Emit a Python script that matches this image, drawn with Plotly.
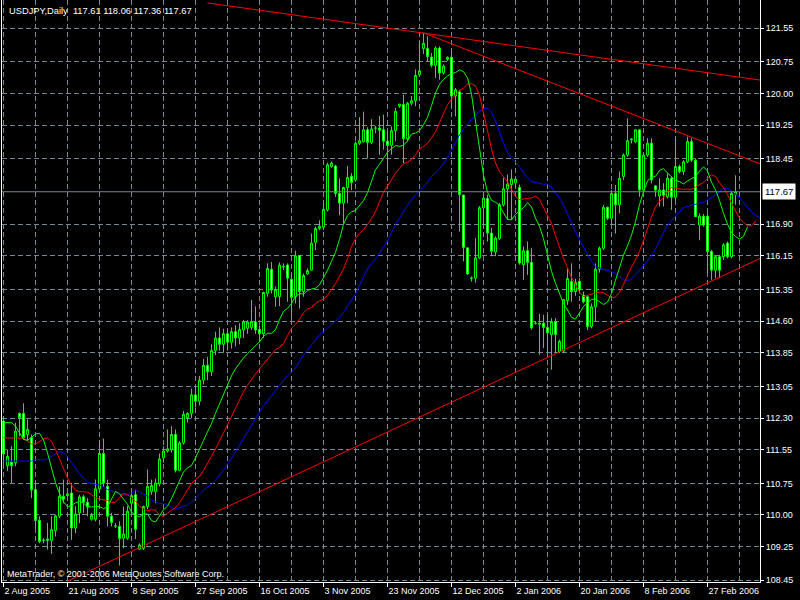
import plotly.graph_objects as go

# ---------------- data (USDJPY daily) ----------------
opens = [112.23,111.17,111.25,111.24,112.41,112.41,111.91,111.83,110.60,109.87,
         109.40,109.43,109.40,109.63,109.97,110.44,110.46,110.52,109.69,110.05,
         110.43,110.30,109.90,109.90,110.62,111.46,110.68,109.97,109.74,109.73,
         109.45,109.45,110.28,110.48,109.19,109.21,110.20,110.56,110.56,110.74,
         111.36,111.52,111.55,111.91,111.06,111.71,112.31,112.41,112.85,112.70,
         113.20,113.55,113.40,113.90,114.20,114.05,114.30,114.10,114.35,114.20,
         114.39,114.43,114.45,114.58,114.40,114.30,115.26,115.83,115.18,115.18,
         115.90,115.93,115.59,115.18,116.15,115.30,115.72,115.81,116.47,116.80,
         116.83,117.24,118.27,118.28,117.63,117.40,117.77,118.04,117.95,118.82,
         118.86,119.14,118.84,119.18,119.18,119.14,118.87,118.77,119.12,119.70,
         119.74,118.93,119.77,119.83,120.45,121.07,121.07,120.86,120.67,121.08,
         120.49,120.81,120.86,119.94,120.04,117.59,116.34,115.62,115.62,116.10,
         117.29,117.51,116.69,116.24,116.56,117.36,117.74,117.84,117.88,117.77,
         115.94,116.27,115.99,114.55,114.55,114.55,114.45,114.28,114.59,113.88,
         113.89,115.09,115.54,115.30,115.54,115.22,115.18,114.47,114.94,115.83,
         116.33,117.30,117.04,117.63,117.36,118.03,118.54,118.90,118.86,119.14,
         117.71,118.54,118.82,117.81,117.57,117.71,117.55,117.99,117.54,118.27,
         118.15,118.38,118.86,118.42,116.88,117.09,117.09,116.25,115.81,116.13,
         116.13,116.45,116.13,117.61]
highs = [112.35,111.55,111.63,112.19,112.43,112.65,112.27,111.91,110.76,109.97,
         109.45,109.81,109.97,110.01,110.68,110.84,110.54,110.76,110.21,110.48,
         110.48,110.40,110.05,110.84,111.75,111.81,110.84,110.05,109.81,109.85,
         110.20,110.21,110.52,110.60,109.33,110.22,111.08,110.84,110.86,111.46,
         111.63,112.03,112.11,112.03,111.75,112.47,112.44,113.00,113.05,113.30,
         113.70,113.75,114.05,114.35,114.45,114.42,114.40,114.45,114.50,114.55,
         114.63,114.62,115.10,114.95,114.50,115.30,115.97,116.00,115.42,115.99,
         115.97,115.97,115.73,116.27,116.15,115.73,115.85,116.68,116.84,116.99,
         117.41,118.36,118.39,118.31,117.99,117.79,118.28,118.11,118.86,119.44,
         119.57,119.20,119.39,119.23,119.47,119.50,119.10,119.22,119.66,119.75,
         119.97,119.80,119.94,120.57,121.24,121.44,121.36,120.96,121.12,121.12,
         120.69,120.88,121.04,120.13,120.09,117.60,116.34,115.66,116.57,117.33,
         117.63,117.60,116.81,116.61,117.40,118.00,118.08,118.20,118.00,117.84,
         116.37,116.49,116.34,114.60,114.77,114.75,114.75,114.67,114.67,114.16,
         115.11,115.86,115.97,115.60,115.62,115.30,115.22,115.02,115.97,116.37,
         117.36,117.32,117.71,117.83,118.15,118.58,119.41,118.94,119.15,119.15,
         118.58,118.94,118.94,117.83,117.99,117.87,118.11,118.03,118.94,118.31,
         118.42,118.98,118.94,118.46,117.16,117.14,117.16,116.29,116.13,116.17,
         116.45,116.49,117.67,118.06]
lows = [111.20,111.04,110.76,111.16,111.87,111.79,111.75,110.40,109.69,109.33,
        109.33,109.18,109.08,109.49,109.93,110.28,110.40,109.41,109.57,109.81,
        110.05,109.97,109.87,109.85,110.60,110.67,109.73,109.73,109.69,108.80,
        109.21,109.41,110.05,109.43,109.17,109.17,110.14,110.48,110.28,110.68,
        111.24,111.48,111.48,111.01,111.04,111.67,112.19,112.30,112.55,112.60,
        113.10,113.20,113.30,113.80,113.90,113.85,113.90,113.95,114.00,114.05,
        114.20,114.30,114.39,114.30,114.10,114.20,115.18,115.26,114.94,114.96,
        115.81,115.06,114.63,115.02,114.90,115.18,115.70,115.80,116.29,116.76,
        116.76,117.20,118.24,117.55,117.12,116.92,117.40,117.71,117.91,118.78,
        118.84,118.46,118.80,119.06,118.55,118.67,118.23,118.55,118.87,119.66,
        118.35,118.87,119.72,119.70,120.41,120.94,120.77,120.62,120.37,120.33,
        120.45,120.77,119.66,119.46,116.73,116.02,115.70,115.54,115.51,116.07,
        116.81,116.49,116.14,116.14,116.53,117.32,117.01,117.01,117.78,115.94,
        115.58,115.70,114.40,114.52,113.80,113.96,113.84,113.45,113.84,113.84,
        113.84,114.99,115.06,115.20,115.25,115.02,114.39,114.43,114.60,115.75,
        116.29,117.00,116.88,116.68,117.16,117.95,118.50,118.82,118.82,117.55,
        117.67,118.50,117.87,117.55,117.32,117.32,117.51,117.24,117.47,118.11,
        118.07,118.35,118.38,117.08,116.52,116.84,115.73,115.58,115.62,115.62,
        116.05,116.09,116.09,117.36]
closes = [111.45,111.39,111.17,111.99,112.31,111.83,112.03,110.60,109.87,109.37,
          109.40,109.40,109.65,109.98,110.44,110.38,110.50,109.69,110.02,110.43,
          110.30,110.19,109.99,110.62,111.46,110.76,109.97,109.82,109.74,109.44,
          109.55,110.09,110.46,109.66,109.29,110.20,110.68,110.70,110.76,111.33,
          111.52,111.57,111.91,111.06,111.71,112.39,112.41,112.85,112.70,113.20,
          113.55,113.40,113.90,114.20,114.05,114.30,114.10,114.35,114.20,114.40,
          114.58,114.58,114.59,114.39,114.30,115.28,115.85,115.34,115.34,115.93,
          115.89,115.62,115.16,116.15,115.30,115.68,115.80,116.45,116.80,116.85,
          117.25,118.31,118.35,117.63,117.40,117.77,118.01,117.89,118.82,118.88,
          119.14,118.84,119.16,119.18,119.13,118.87,118.77,119.12,119.58,119.75,
          118.93,119.77,119.83,120.43,120.54,121.19,120.88,120.67,121.08,120.49,
          120.65,120.86,119.94,120.09,117.60,116.35,115.72,115.62,116.10,117.29,
          117.52,116.69,116.26,116.57,117.36,117.74,117.85,117.97,117.97,115.98,
          116.27,115.99,114.44,114.55,114.53,114.45,114.32,114.59,114.28,114.12,
          115.11,115.61,115.30,115.52,115.34,115.06,114.47,114.94,115.83,116.33,
          117.30,117.04,117.63,117.36,117.99,118.54,118.88,118.92,119.14,117.71,
          118.54,118.82,117.95,117.71,117.71,117.59,117.99,117.54,118.27,118.15,
          118.38,118.86,118.42,117.08,117.09,116.88,116.25,115.81,116.13,115.81,
          116.41,116.13,117.63,117.67]

# Alligator (SMMA of median price); starting values read at the left edge
jaw_period, jaw_shift, jaw_start = 13, 8, 111.28
teeth_period, teeth_shift, teeth_start = 8, 5, 111.83
lips_period, lips_shift, lips_start = 5, 3, 112.19

date_labels = ["2 Aug 2005", "21 Aug 2005", "8 Sep 2005", "27 Sep 2005", "16 Oct 2005",
               "3 Nov 2005", "23 Nov 2005", "12 Dec 2005", "2 Jan 2006", "20 Jan 2006",
               "8 Feb 2006", "27 Feb 2006"]
date_label_bars = [0, 16, 32, 48, 64, 80, 96, 112, 128, 144, 160, 176]

price_labels = ["121.55", "120.75", "120.00", "119.25", "118.45", "116.90", "116.15",
                "115.35", "114.60", "113.85", "113.05", "112.30", "111.55", "110.75",
                "110.00", "109.25", "108.45"]

# drawn trendlines: (bar, price) endpoints
trend_upper_long = [(51, 122.15), (189.2, 120.32)]
trend_upper_short = [(105, 121.44), (189.2, 118.33)]
trend_lower = [(16, 108.43), (189.2, 116.09)]

symbol_text = "USDJPY,Daily  117.61 118.06 117.36 117.67"
last_price = 117.67
copyright_text = "MetaTrader, \u00a9 2001-2006 MetaQuotes Software Corp."

# ---------------- derived ----------------
n = len(closes)
bars = list(range(n))
median = [(h + l) / 2 for h, l in zip(highs, lows)]


def smma(values, period, start):
    out, prev = [], start
    for v in values:
        prev = (prev * (period - 1) + v) / period
        out.append(prev)
    return out


def shifted(values, shift, start):
    xs = list(range(n + shift))
    ys = [start] * shift + values
    return xs, ys


FONT = "Liberation Sans, Arial, sans-serif"
LIME = "#00ff00"
GRID = "#778899"

fig = go.Figure()

fig.add_trace(go.Candlestick(
    x=bars, open=opens, high=highs, low=lows, close=closes,
    increasing=dict(line=dict(color=LIME, width=1), fillcolor="black"),
    decreasing=dict(line=dict(color=LIME, width=1), fillcolor="white"),
    whiskerwidth=0, showlegend=False, hoverinfo="skip"))

for period, shift, start, color in [(jaw_period, jaw_shift, jaw_start, "#0000ff"),
                                    (teeth_period, teeth_shift, teeth_start, "#ff0000"),
                                    (lips_period, lips_shift, lips_start, LIME)]:
    xs, ys = shifted(smma(median, period, start), shift, start)
    fig.add_trace(go.Scatter(x=xs, y=ys, mode="lines",
                             line=dict(color=color, width=1),
                             showlegend=False, hoverinfo="skip"))

for seg in (trend_upper_long, trend_upper_short, trend_lower):
    fig.add_trace(go.Scatter(x=[p[0] for p in seg], y=[p[1] for p in seg], mode="lines",
                             line=dict(color="#ff0000", width=1),
                             showlegend=False, hoverinfo="skip"))

# current price line
fig.add_trace(go.Scatter(x=[-5, 200], y=[last_price, last_price], mode="lines",
                         line=dict(color=GRID, width=1), showlegend=False, hoverinfo="skip"))

fig.update_layout(
    width=800, height=600,
    margin=dict(l=2, r=40, t=0, b=18),
    paper_bgcolor="black", plot_bgcolor="black",
    font=dict(family=FONT, size=9, color="white"),
    showlegend=False,
    xaxis=dict(
        range=[-0.375, 189.125], rangeslider=dict(visible=False),
        tickmode="array", tickvals=date_label_bars, ticktext=date_labels,
        ticks="outside", ticklen=4, tickcolor="white",
        ticklabelposition="outside right",
        showgrid=True, gridcolor=GRID, griddash="5px,3px", gridwidth=1,
        minor=dict(dtick=8, tick0=0, showgrid=True, gridcolor=GRID,
                   griddash="5px,3px", gridwidth=1, ticks=""),
        showline=True, linecolor="white", linewidth=1,
        zeroline=False, tickfont=dict(size=9, color="white", family=FONT)),
    yaxis=dict(
        range=[108.41, 122.22], side="right",
        tickmode="array", tickvals=[float(s) for s in price_labels], ticktext=price_labels,
        ticks="outside", ticklen=3, tickcolor="white",
        showgrid=True, gridcolor=GRID, griddash="5px,3px", gridwidth=1,
        showline=True, mirror=True, linecolor="white", linewidth=1,
        zeroline=False, tickfont=dict(size=9, color="white", family=FONT)),
    annotations=[
        dict(text=symbol_text, xref="paper", yref="paper", x=0.0066, y=0.981,
             xanchor="left", yanchor="middle", showarrow=False,
             font=dict(size=9.3, color="white", family=FONT)),
        dict(text=copyright_text, xref="paper", yref="paper", x=0.004, y=0.0137,
             xanchor="left", yanchor="middle", showarrow=False,
             font=dict(size=9, color="white", family=FONT)),
        dict(text=f"{last_price:.2f}", xref="paper", yref="y", x=1, y=last_price,
             xanchor="left", yanchor="middle", xshift=2, showarrow=False,
             bgcolor="white", borderpad=2,
             font=dict(size=9.5, color="black", family=FONT)),
    ],
)

fig.write_html("out.html", config={"displayModeBar": False},
               post_script="document.body.style.margin='0';")
